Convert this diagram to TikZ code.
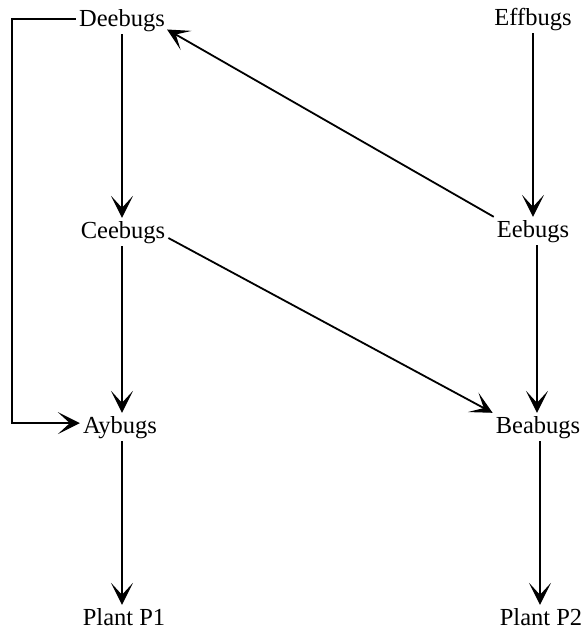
\documentclass[tikz,border=0pt]{standalone}
\usepackage{fontspec}
\setmainfont{Liberation Serif}
\usetikzlibrary{arrows.meta}
\begin{document}
\begin{tikzpicture}[x=1pt,y=-1pt,
  bug/.style={inner sep=3pt, anchor=base, font=\fontsize{24.5}{28}\selectfont},
  tip/.style={-{Stealth[length=22pt,width=22pt,inset=12pt,line width=1.2pt]}},
  link/.style={line width=1.8pt, tip},
  loop/.style={line width=1.6pt, tip}]
\useasboundingbox (0,0) rectangle (584,629);

% left column
\node[bug] (D) at (122,26) {Deebugs};
\node[bug] (C) at (123,238) {Ceebugs};
\node[bug] (A) at (120,433) {Aybugs};
\node[bug] (P1) at (124,625) {Plant P1};

% right column
\node[bug] (F) at (533,25) {Effbugs};
\node[bug] (E) at (533,237) {Eebugs};
\node[bug] (B) at (538,433) {Beabugs};
\node[bug] (P2) at (541,625) {Plant P2};

% vertical links
\draw[link] (D.south -| 122,0) -- (C.north -| 122,0);
\draw[link] (C.south -| 122,0) -- (A.north -| 122,0);
\draw[link] (A.south -| 122,0) -- (P1.north -| 122,0);
\draw[link] (F.south -| 533,0) -- (E.north -| 533,0);
\draw[link] (E.south -| 537,0) -- (B.north -| 537,0);
\draw[link] (B.south -| 540,0) -- (P2.north -| 540,0);

% diagonal links
\draw[link] (E.north west) -- ([xshift=-1pt,yshift=5pt]D.south east);
\draw[link] (C.base east) -- (B.north west);

% feedback loop from Deebugs down to Aybugs
\draw[loop] ([yshift=1pt]D.west) -- ([yshift=1pt]D.west -| 12,0) |- ([yshift=4pt]A.west);
\end{tikzpicture}
\end{document}
